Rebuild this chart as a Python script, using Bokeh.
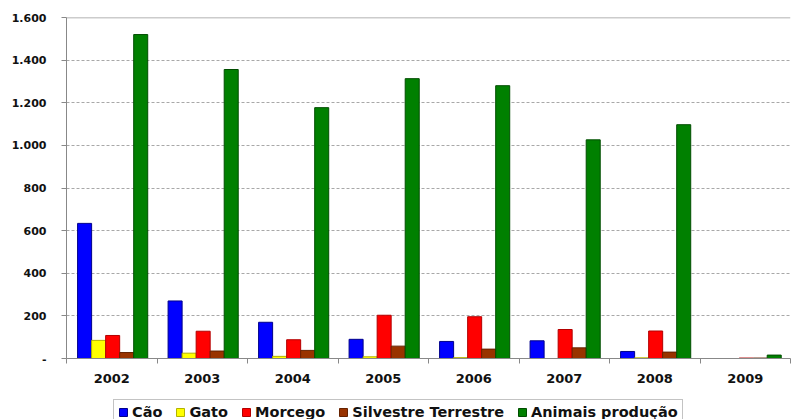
import numpy as np
from bokeh.plotting import figure
from bokeh.layouts import column
from bokeh.models import (ColumnDataSource, Range1d, FixedTicker, CustomJSTickFormatter,
                          Legend, LegendItem, Span)
from bokeh.transform import dodge
from bokeh.embed import file_html
from bokeh.resources import INLINE

years = ["2002", "2003", "2004", "2005", "2006", "2007", "2008", "2009"]
cao = [634, 270, 170, 90, 80, 83, 33, 0]
gato = [85, 25, 10, 8, 4, 0, 3, 0]
morcego = [108, 128, 88, 203, 196, 136, 129, 2]
silvestre = [28, 35, 38, 58, 44, 50, 30, 2]
animais = [1520, 1356, 1177, 1313, 1280, 1026, 1097, 16]

series_names = ["Cão", "Gato", "Morcego", "Silvestre Terrestre", "Animais produção"]
series_keys = ["cao", "gato", "morcego", "silvestre", "animais"]
fill_colors = ["#0000FF", "#FFFF00", "#FF0000", "#993300", "#008000"]
line_colors = ["#00008B", "#B3B300", "#B30000", "#662200", "#004D00"]

x = np.arange(len(years)) + 0.5
source = ColumnDataSource(dict(x=x, cao=cao, gato=gato, morcego=morcego,
                               silvestre=silvestre, animais=animais))

p = figure(frame_width=724, frame_height=341, output_backend="svg", toolbar_location=None,
           x_range=Range1d(0, len(years)), y_range=Range1d(0, 1600),
           min_border_left=66, min_border_top=17, min_border_right=3, min_border_bottom=40,
           background_fill_color="white", border_fill_color="white")
p.outline_line_color = None

bw = 0.155
offsets = [-2 * bw, -bw, 0, bw, 2 * bw]
for key, fc, lc, off in zip(series_keys, fill_colors, line_colors, offsets):
    p.vbar(x=dodge("x", off + 0.01, range=p.x_range), top=key, width=bw, source=source,
           fill_color=fc, line_color=lc, line_width=1)

# Y axis
p.yaxis.ticker = FixedTicker(ticks=list(range(0, 1601, 200)))
p.yaxis.formatter = CustomJSTickFormatter(code="""
    if (tick == 0) { return '-'; }
    return Math.round(tick).toString().replace(/\\B(?=(\\d{3})+(?!\\d))/g, '.');
""")
p.yaxis.axis_line_color = "#888888"
p.yaxis.major_tick_line_color = "#888888"
p.yaxis.major_tick_out = 5
p.yaxis.major_tick_in = 0
p.yaxis.minor_tick_line_color = None
p.yaxis.major_label_standoff = 15
p.yaxis.major_label_text_font = "DejaVu Sans"
p.yaxis.major_label_text_font_style = "bold"
p.yaxis.major_label_text_font_size = "11px"
p.yaxis.major_label_text_color = "#111111"

# X axis
p.xaxis.ticker = FixedTicker(ticks=list(x), minor_ticks=list(range(0, len(years) + 1)))
p.xaxis.major_label_overrides = {float(v): y for v, y in zip(x, years)}
p.xaxis.axis_line_color = "#888888"
p.xaxis.major_tick_line_color = None
p.xaxis.minor_tick_line_color = "#888888"
p.xaxis.minor_tick_out = 5
p.xaxis.minor_tick_in = 0
p.xaxis.major_label_standoff = 9
p.xaxis.major_label_text_font = "DejaVu Sans"
p.xaxis.major_label_text_font_style = "bold"
p.xaxis.major_label_text_font_size = "13px"
p.xaxis.major_label_text_color = "#111111"

# Grid
p.xgrid.grid_line_color = None
p.ygrid.grid_line_color = "#A8A8A8"
p.ygrid.grid_line_dash = "3 2"
p.ygrid.grid_line_width = 1
p.add_layout(Span(location=1600, dimension="width", line_color="#999999", line_width=1.5))

# Legend strip (swatch renderers sit outside the visible range)
lg = figure(width=793, height=21, output_backend="svg", toolbar_location=None,
            x_range=Range1d(0, 1), y_range=Range1d(0, 1),
            x_axis_location=None, y_axis_location=None,
            min_border_left=0, min_border_right=0, min_border_top=0, min_border_bottom=0,
            background_fill_color="white", border_fill_color="white")
lg.outline_line_color = None
lg.grid.grid_line_color = None
swatch = ColumnDataSource(dict(x=[-10], top=[0]))
items = []
for name, fc, lc in zip(series_names, fill_colors, line_colors):
    r = lg.vbar(x="x", top="top", width=0.1, source=swatch, fill_color=fc, line_color=lc)
    items.append(LegendItem(label=name, renderers=[r]))

legend = Legend(items=items, orientation="horizontal", location=(47, -6),
                label_text_font="DejaVu Sans", label_text_font_style="bold",
                label_text_font_size="14.5px", label_text_color="#111111",
                glyph_width=10, glyph_height=10, label_standoff=4, spacing=13,
                padding=4, margin=0, border_line_color="#888888", border_line_width=1.5,
                label_height=12, background_fill_alpha=1.0)
lg.add_layout(legend, "center")

layout = column(p, lg, spacing=0)
open("out.html", "w").write(file_html(layout, INLINE))
